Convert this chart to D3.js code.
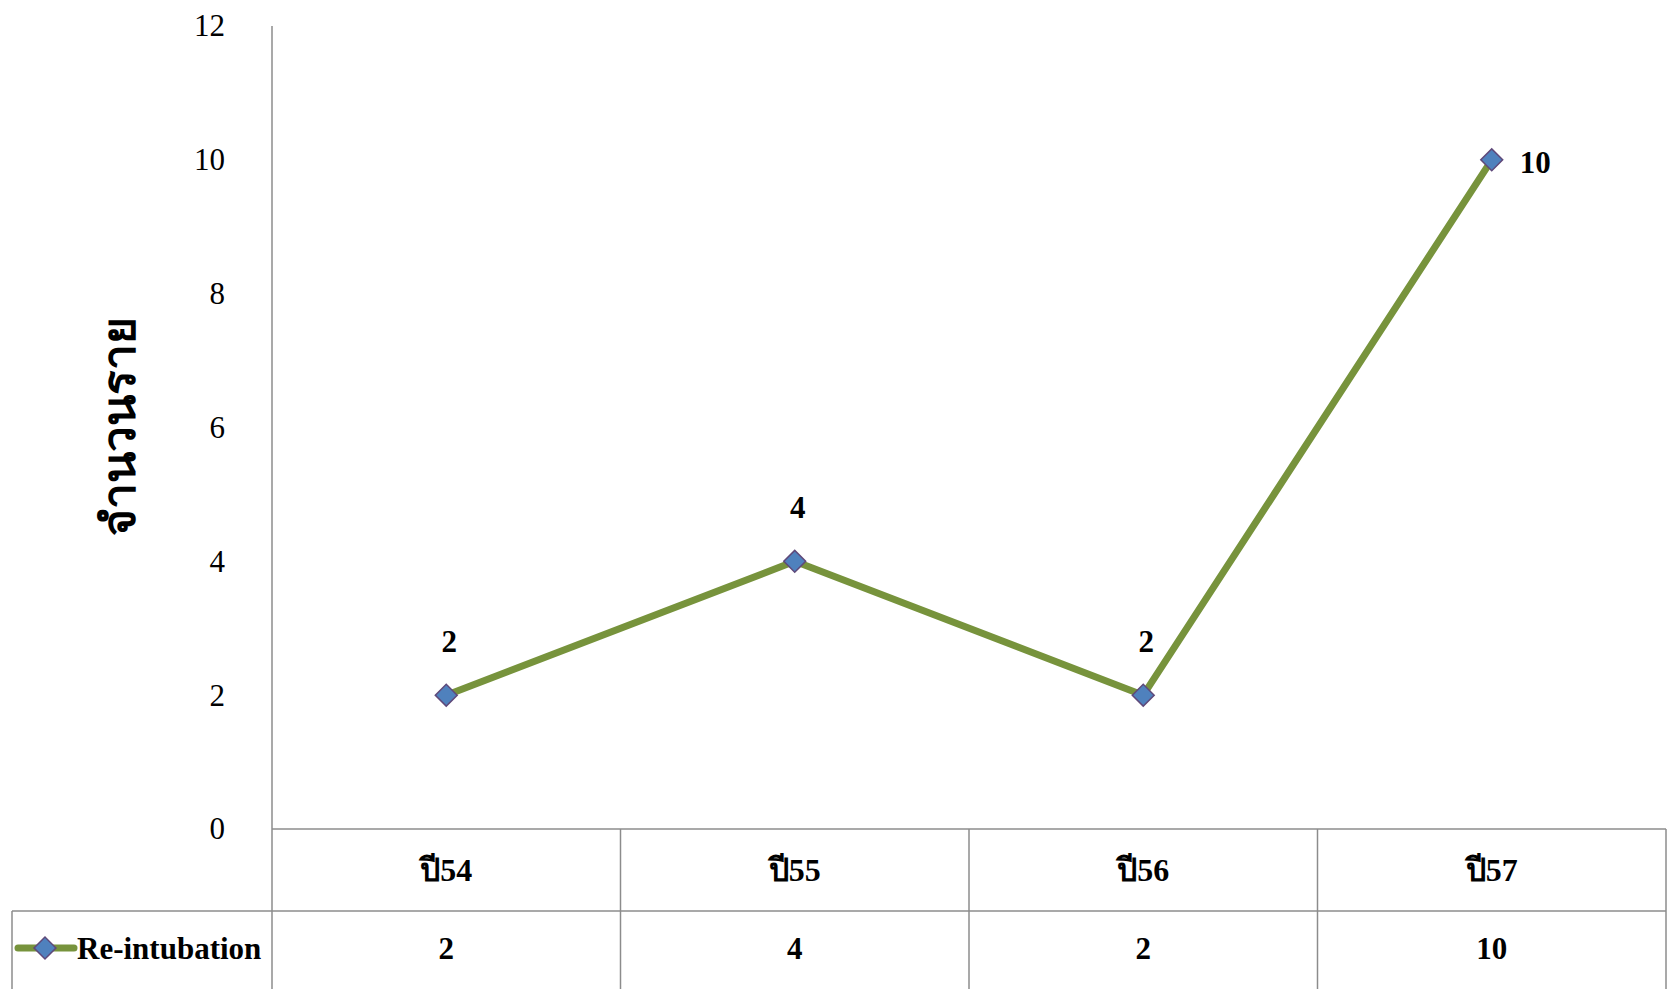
<!DOCTYPE html>
<html>
<head>
<meta charset="utf-8">
<script src="https://cdn.jsdelivr.net/npm/d3@7"></script>
<style>
  html, body { margin: 0; padding: 0; background: #fff; }
  svg { display: block; }
  text { font-family: "Liberation Serif", "Times New Roman", serif; fill: #000; }
</style>
</head>
<body>
<svg id="chart" width="1671" height="989"></svg>
<script>
// Re-intubation counts by fiscal year
const categories = ["ปี54", "ปี55", "ปี56", "ปี57"];
const values = [2, 4, 2, 10];
const seriesName = "Re-intubation";
const yTicks = [0, 2, 4, 6, 8, 10, 12];
const yTitle = "จำนวนราย";

const W = 1671, H = 989;
const plot = { left: 272, right: 1666, top: 26, bottom: 829 };
const row1Bottom = 911;
const legendLeft = 12;

const svg = d3.select("#chart");
const gridColor = "#8c8c8c";

const x = d3.scaleBand().domain(categories).range([plot.left, plot.right]).padding(0);
const y = d3.scaleLinear().domain([0, 12]).range([plot.bottom, plot.top]);
const cx = d => x(d) + x.bandwidth() / 2;

// Y axis with labels only (no tick marks)
const yAxis = d3.axisLeft(y).tickValues(yTicks).tickSize(0).tickPadding(0);
const gy = svg.append("g").attr("transform", `translate(${plot.left - 47},0)`).call(yAxis);
gy.select(".domain").remove();
gy.selectAll("text")
  .style("font-family", '"Liberation Serif", "Times New Roman", serif')
  .style("font-size", "31px")
  .attr("fill", "#000");

// Axis lines
svg.append("line")
  .attr("x1", plot.left).attr("x2", plot.left)
  .attr("y1", plot.top).attr("y2", H)
  .attr("stroke", gridColor).attr("stroke-width", 1.5);
svg.append("line")
  .attr("x1", plot.left).attr("x2", plot.right)
  .attr("y1", plot.bottom).attr("y2", plot.bottom)
  .attr("stroke", gridColor).attr("stroke-width", 1.5);

// Data table grid
svg.append("line")
  .attr("x1", legendLeft).attr("x2", plot.right)
  .attr("y1", row1Bottom).attr("y2", row1Bottom)
  .attr("stroke", gridColor).attr("stroke-width", 1.5);
svg.append("line")
  .attr("x1", legendLeft).attr("x2", legendLeft)
  .attr("y1", row1Bottom).attr("y2", H)
  .attr("stroke", gridColor).attr("stroke-width", 1.5);
svg.selectAll(".col-div").data(categories).enter().append("line")
  .attr("class", "col-div")
  .attr("x1", d => x(d) + x.bandwidth()).attr("x2", d => x(d) + x.bandwidth())
  .attr("y1", plot.bottom).attr("y2", H)
  .attr("stroke", gridColor).attr("stroke-width", 1.5);

// Category labels (table header row)
svg.selectAll(".cat").data(categories).enter().append("text")
  .attr("class", "cat")
  .attr("x", d => cx(d)).attr("y", (plot.bottom + row1Bottom) / 2)
  .attr("text-anchor", "middle").attr("dominant-baseline", "central")
  .style("font-size", "32px").style("font-weight", "bold")
  .text(d => d);

// Value row
svg.selectAll(".val").data(categories).enter().append("text")
  .attr("class", "val")
  .attr("x", d => cx(d)).attr("y", 948)
  .attr("text-anchor", "middle").attr("dominant-baseline", "central")
  .style("font-size", "31px").style("font-weight", "bold")
  .text((d, i) => values[i]);

// Series line
const line = d3.line().x((d, i) => cx(categories[i])).y(d => y(d));
svg.append("path")
  .datum(values)
  .attr("d", line)
  .attr("fill", "none")
  .attr("stroke", "#77933C")
  .attr("stroke-width", 7)
  .attr("stroke-linejoin", "round");

// Diamond markers
const diamond = d3.symbol().type(d3.symbolSquare).size(240);
svg.selectAll(".pt").data(values).enter().append("path")
  .attr("class", "pt")
  .attr("d", diamond)
  .attr("transform", (d, i) => `translate(${cx(categories[i])},${y(d)}) rotate(45)`)
  .attr("fill", "#4F81BD")
  .attr("stroke", "#5F497A")
  .attr("stroke-width", 1.5);

// Point labels: last point to the right, others above
svg.selectAll(".lbl").data(values).enter().append("text")
  .attr("class", "lbl")
  .attr("x", (d, i) => i === values.length - 1 ? cx(categories[i]) + 28 : cx(categories[i]) + 3)
  .attr("y", (d, i) => i === values.length - 1 ? y(d) + 3 : y(d) - 54)
  .attr("text-anchor", (d, i) => i === values.length - 1 ? "start" : "middle")
  .attr("dominant-baseline", "central")
  .style("font-size", "31px").style("font-weight", "bold")
  .text(d => d);

// Legend key inside the table
const ly = 948;
svg.append("line")
  .attr("x1", 18).attr("x2", 74).attr("y1", ly).attr("y2", ly)
  .attr("stroke", "#77933C").attr("stroke-width", 7).attr("stroke-linecap", "round");
svg.append("path")
  .attr("d", diamond)
  .attr("transform", `translate(45,${ly}) rotate(45)`)
  .attr("fill", "#4F81BD").attr("stroke", "#5F497A").attr("stroke-width", 1.5);
svg.append("text")
  .attr("x", 77).attr("y", ly)
  .attr("dominant-baseline", "central")
  .style("font-size", "31px").style("font-weight", "bold")
  .text(seriesName);

// Y axis title
svg.append("text")
  .attr("transform", `translate(119,${426}) rotate(-90)`)
  .attr("text-anchor", "middle").attr("dominant-baseline", "central")
  .style("font-size", "46px").style("font-weight", "bold")
  .text(yTitle);
</script>
</body>
</html>
